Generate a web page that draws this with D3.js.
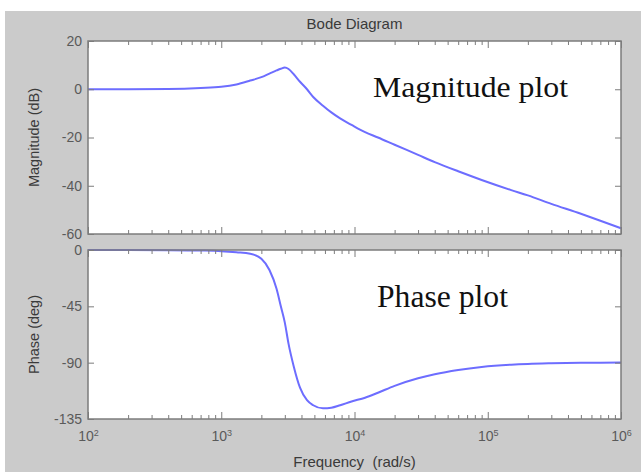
<!DOCTYPE html>
<html>
<head>
<meta charset="utf-8">
<script src="https://cdn.jsdelivr.net/npm/d3@7/dist/d3.min.js"></script>
<style>
  body { margin: 0; background: #fff; }
  svg { display: block; }
  text { font-family: "Liberation Sans", Arial, sans-serif; }
  text.note { font-family: "Liberation Serif", "Times New Roman", serif; }
</style>
</head>
<body>
<svg id="chart" width="641" height="472"></svg>
<script>
// frequency samples (rad/s)
const freq = [100, 200, 400, 700, 1000, 1300, 1650, 2000, 2300, 2600, 2800, 3000,
  3200, 3500, 3900, 4400, 4900, 5800, 6700, 7800, 9500, 12000, 15000, 20000,
  30000, 40000, 60000, 90000, 150000, 200000, 300000, 500000, 700000, 1000000];

// magnitude (dB)
const magDb = [0, 0, 0.1, 0.5, 1.0, 2.0, 3.6, 5.0, 6.5, 7.8, 8.5, 9.0,
  8.4, 6.2, 3.1, 0.0, -3.2, -6.8, -9.6, -12.1, -14.8, -17.8, -20.0, -23.0,
  -27.2, -30.2, -34.0, -37.6, -41.8, -44.0, -47.5, -51.6, -54.5, -57.6];

// phase (deg)
const phaseDeg = [0, 0, -0.1, -0.4, -0.9, -1.8, -3, -7, -16, -31, -45, -58,
  -75, -93, -110, -120, -124, -126.5, -126, -124, -121, -118, -114, -108.5,
  -102.5, -99.2, -95.8, -93.4, -91.6, -91, -90.5, -90.1, -90, -89.9];

const magTicks = [20, 0, -20, -40, -60];
const phaseTicks = [0, -45, -90, -135];
const decades = [1e2, 1e3, 1e4, 1e5, 1e6];

(function () {
  const svg = d3.select('#chart');

  const left = 88, right = 621;
  const magTop = 41, magBottom = 234;
  const phTop = 250, phBottom = 419;
  const lineColor = '#6d6dff';
  const axisColor = '#7c7c7c';

  // grey figure background
  svg.append('rect')
    .attr('x', 5).attr('y', 11)
    .attr('width', 641 - 5).attr('height', 472 - 11)
    .attr('fill', '#cbcbcb');

  const x = d3.scaleLog().domain([1e2, 1e6]).range([left, right]);
  const yMag = d3.scaleLinear().domain([-60, 20]).range([magBottom, magTop]);
  const yPh = d3.scaleLinear().domain([-135, 0]).range([phBottom, phTop]);

  // minor log ticks 2..9 in each decade
  const minor = [];
  decades.slice(0, -1).forEach(d => {
    for (let k = 2; k <= 9; k++) minor.push(d * k);
  });

  function panel(y, top, bottom, yTicks, values, showX) {
    const g = svg.append('g');

    g.append('rect')
      .attr('x', left).attr('y', top)
      .attr('width', right - left).attr('height', bottom - top)
      .attr('fill', '#fff');

    // clip so the curve stays in the box
    const id = 'clip' + top;
    svg.append('clipPath').attr('id', id)
      .append('rect')
      .attr('x', left).attr('y', top - 1)
      .attr('width', right - left).attr('height', bottom - top + 2);

    const line = d3.line()
      .x((d, i) => x(freq[i]))
      .y(d => y(d))
      .curve(d3.curveMonotoneX);

    g.append('path')
      .datum(values)
      .attr('clip-path', `url(#${id})`)
      .attr('fill', 'none')
      .attr('stroke', lineColor)
      .attr('stroke-width', 2)
      .attr('d', line);

    // y axis, ticks inward on both sides
    const yl = g.append('g')
      .attr('transform', `translate(${left},0)`)
      .call(d3.axisLeft(y).tickValues(yTicks).tickSizeInner(-6).tickSizeOuter(0).tickPadding(6));
    g.append('g')
      .attr('transform', `translate(${right},0)`)
      .call(d3.axisRight(y).tickValues(yTicks).tickSizeInner(-6).tickSizeOuter(0).tickFormat(''));

    // x ticks on bottom and top edges
    const xb = g.append('g').attr('transform', `translate(0,${bottom})`);
    xb.append('g').call(d3.axisBottom(x).tickValues(minor).tickSizeInner(-4).tickSizeOuter(0).tickFormat(''));
    const xbMaj = xb.append('g').call(d3.axisBottom(x).tickValues(decades).tickSizeInner(-7).tickSizeOuter(0).tickPadding(12));

    const xt = g.append('g').attr('transform', `translate(0,${top})`);
    xt.append('g').call(d3.axisTop(x).tickValues(minor).tickSizeInner(-4).tickSizeOuter(0).tickFormat(''));
    xt.append('g').call(d3.axisTop(x).tickValues(decades).tickSizeInner(-7).tickSizeOuter(0).tickFormat(''));

    g.selectAll('.domain').remove();
    g.selectAll('.tick line').attr('stroke', axisColor);
    yl.selectAll('text')
      .attr('font-size', 14)
      .attr('fill', '#5a5a5a')
      .text(d => d);

    if (showX) {
      xbMaj.selectAll('text')
        .attr('font-size', 14)
        .attr('fill', '#5a5a5a')
        .text('10')
        .append('tspan')
        .attr('dy', '-0.55em')
        .attr('font-size', 9)
        .text(d => Math.round(Math.log10(d)));
    } else {
      xbMaj.selectAll('text').remove();
    }

    // frame
    g.append('rect')
      .attr('x', left).attr('y', top)
      .attr('width', right - left).attr('height', bottom - top)
      .attr('fill', 'none')
      .attr('stroke', axisColor)
      .attr('stroke-width', 1.5);

    return g;
  }

  panel(yMag, magTop, magBottom, magTicks, magDb, false);
  panel(yPh, phTop, phBottom, phaseTicks, phaseDeg, true);

  // titles and labels
  svg.append('text')
    .attr('x', (left + right) / 2).attr('y', 29)
    .attr('text-anchor', 'middle')
    .attr('font-size', 15)
    .attr('fill', '#3a3a3a')
    .text('Bode Diagram');

  svg.append('text')
    .attr('transform', `translate(39,${(magTop + magBottom) / 2}) rotate(-90)`)
    .attr('text-anchor', 'middle')
    .attr('font-size', 14.5)
    .attr('fill', '#3a3a3a')
    .text('Magnitude (dB)');

  svg.append('text')
    .attr('transform', `translate(39,${(phTop + phBottom) / 2}) rotate(-90)`)
    .attr('text-anchor', 'middle')
    .attr('font-size', 14.5)
    .attr('fill', '#3a3a3a')
    .text('Phase (deg)');

  svg.append('text')
    .attr('x', (left + right) / 2).attr('y', 467)
    .attr('text-anchor', 'middle')
    .attr('font-size', 15)
    .attr('fill', '#3a3a3a')
    .style('white-space', 'pre')
    .text('Frequency  (rad/s)');

  // annotations in the plot area
  svg.append('text')
    .attr('class', 'note')
    .attr('x', 373).attr('y', 97)
    .attr('font-size', 30)
    .attr('textLength', 195)
    .attr('lengthAdjust', 'spacingAndGlyphs')
    .attr('fill', '#111')
    .text('Magnitude plot');

  svg.append('text')
    .attr('class', 'note')
    .attr('x', 377).attr('y', 307)
    .attr('font-size', 31)
    .attr('textLength', 131)
    .attr('lengthAdjust', 'spacingAndGlyphs')
    .attr('fill', '#111')
    .text('Phase plot');
})();
</script>
</body>
</html>
